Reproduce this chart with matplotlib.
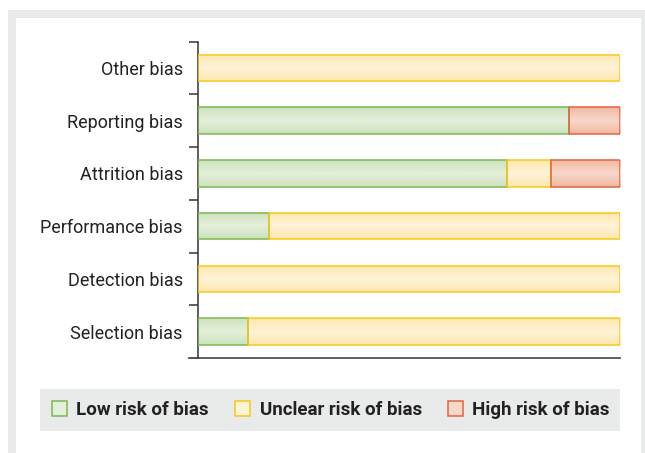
import matplotlib
matplotlib.use('Agg')
import matplotlib.pyplot as plt
from matplotlib.patches import Rectangle
from matplotlib.colors import LinearSegmentedColormap
from matplotlib.lines import Line2D
import numpy as np

plt.rcParams['font.family'] = ['Roboto', 'DejaVu Sans']

# categories bottom to top, percentages of studies
categories = ['Selection bias', 'Detection bias', 'Performance bias',
              'Attrition bias', 'Reporting bias', 'Other bias']
low = [11.8, 0, 16.9, 73.3, 87.8, 0]
unclear = [88.2, 100, 83.1, 10.3, 0, 100]
high = [0, 0, 0, 16.4, 12.2, 0]
legend_labels = ['Low risk of bias', 'Unclear risk of bias', 'High risk of bias']

# (edge, dark fill, light fill)
styles = [('#7db84f', '#cde3bf', '#e3efda'),
          ('#f7c81a', '#fde8b0', '#fff3d6'),
          ('#e2653f', '#f0b9a2', '#f7d7c9')]

W, H = 645, 453
fig = plt.figure(figsize=(W / 100, H / 100), dpi=100)
fig.patch.set_facecolor('white')

def fr(x0, y0, x1, y1):
    # pixel box (top-left origin) -> figure fraction rect
    return (x0 / W, 1 - y1 / H, (x1 - x0) / W, (y1 - y0) / H)

for box, col in [((8, 10, 645, 460), '#e9eaea'), ((16, 18, 641, 460), 'white'),
                 ((40, 389, 620, 431), '#e9eaea')]:
    x, y, w, h = fr(*box)
    fig.add_artist(Rectangle((x, y), w, h, transform=fig.transFigure,
                             facecolor=col, edgecolor='none', zorder=0))

ax = fig.add_axes(fr(198, 41.5, 620, 358))
ax.set_facecolor('none')

ypos = np.arange(len(categories))
grad = np.concatenate([np.linspace(0, 1, 20), np.linspace(1, 0, 20)]).reshape(-1, 1)
left = np.zeros(len(categories))
for vals, (edge, dark, light) in zip([low, unclear, high], styles):
    vals = np.array(vals)
    cmap = LinearSegmentedColormap.from_list('g', [dark, light])
    for y, l, v in zip(ypos, left, vals):
        if v <= 0:
            continue
        bar = ax.barh(y, v, left=l, height=0.5, facecolor=dark, edgecolor='none', zorder=2)[0]
        im = ax.imshow(grad, cmap=cmap, aspect='auto', extent=(l, l + v, y - 0.25, y + 0.25),
                       zorder=2.5, interpolation='bilinear')
        im.set_clip_path(bar)
        ax.barh(y, v, left=l, height=0.5, facecolor='none', edgecolor=edge,
                linewidth=1.1, zorder=3)
    left = left + vals

ax.set_xlim(0, 100)
ax.set_ylim(-0.5, len(categories) - 0.5)
for s in ['top', 'right', 'bottom']:
    ax.spines[s].set_visible(False)
ax.spines['left'].set_color('#333333')
ax.spines['left'].set_linewidth(1.1)
ax.add_line(Line2D([-9 / 422, 1], [0, 0], transform=ax.transAxes, color='#555555',
                   linewidth=1.3, clip_on=False))

ax.set_xticks([])
ax.set_yticks(ypos)
ax.set_yticklabels(categories, fontsize=13, color='#222222')
ax.tick_params(axis='y', which='major', length=0, pad=11)
ax.set_yticks(np.arange(-0.5, len(categories)), minor=True)
ax.tick_params(axis='y', which='minor', length=6.5, width=1.1, color='#333333')

handles = [Rectangle((0, 0), 1, 1, facecolor=s[2], edgecolor=s[0], linewidth=1.1)
           for s in styles]
fig.legend(handles, legend_labels, loc='center', bbox_to_anchor=(331 / W, 1 - 410 / H),
           ncol=3, frameon=False, handlelength=0.8, handleheight=0.8,
           handletextpad=0.5, columnspacing=1.4,
           prop={'size': 13.5, 'weight': 'bold'}, labelcolor='#222222')

fig.savefig('out.png', dpi=100)
